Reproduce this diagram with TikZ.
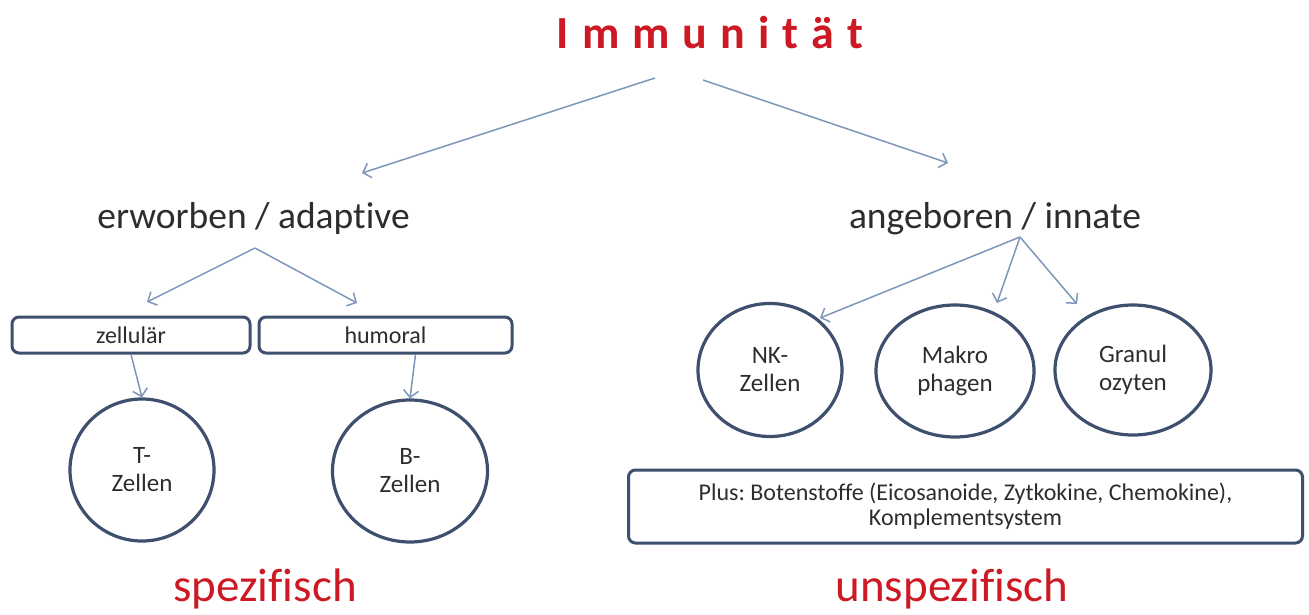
\documentclass[tikz,border=0pt]{standalone}
\usepackage{fontspec}
\setmainfont{Carlito}[Ligatures=NoCommon]
\usetikzlibrary{arrows.meta,shapes.geometric,calc}
\definecolor{redt}{RGB}{205,25,35}
\definecolor{arrc}{RGB}{125,150,185}
\definecolor{bord}{RGB}{62,80,110}
\definecolor{txt}{RGB}{45,45,45}
\newcommand{\ls}{\kern13pt}
\frenchspacing
\begin{document}
\begin{tikzpicture}[x=1pt,y=-1pt,
  lbl/.style={anchor=base,text=txt,inner sep=0pt},
  redlbl/.style={anchor=base,text=redt,inner sep=0pt},
  cell/.style={draw=bord,line width=3.2pt,ellipse,inner sep=0pt,align=center,text=txt,
    font=\fontsize{25}{28}\selectfont},
  boxx/.style={draw=bord,line width=3pt,rounded corners=7pt,inner sep=0pt,align=center,text=txt},
  arr/.style={draw=arrc,line width=1.5pt,-{Straight Barb[length=7pt,width=15pt,line width=1.5pt]}}]
\useasboundingbox (0,0) rectangle (1309,614);
% title
\node[redlbl,font=\fontsize{46}{50}\selectfont\bfseries] (title) at (710,48)
  {I\ls m\ls m\ls u\ls n\ls i\ls t\ls ä\ls t};
% level 1
\node[lbl,font=\fontsize{37.5}{40}\selectfont] (erw) at (253.5,228) {erworben / adaptive};
\node[lbl,font=\fontsize{37.5}{40}\selectfont] (ang) at (995,228) {angeboren / innate};
% arrow endpoints
\coordinate (t1) at (655,78);
\coordinate (t2) at (703,80);
\coordinate (e1) at (362,173);
\coordinate (a1) at (948,163);
\draw[arr] (t1) -- (e1);
\draw[arr] (t2) -- (a1);
% adaptive branch
\node[boxx,minimum width=238,minimum height=36,font=\fontsize{24}{26}\selectfont] (zel) at (131,335) {zellulär};
\node[boxx,minimum width=253,minimum height=36,font=\fontsize{24}{26}\selectfont] (hum) at (385.5,335) {humoral};
\coordinate (ea) at (255,248);
\coordinate (ez) at (147,302);
\coordinate (eh) at (357,303);
\draw[arr] (ea) -- (ez);
\draw[arr] (ea) -- (eh);
\node[cell,minimum width=144,minimum height=142] (tc) at (142,470) {T-\\Zellen};
\node[cell,minimum width=155,minimum height=142] (bc) at (410,471) {B-\\Zellen};
\draw[arr] (zel.south) -- (tc.north);
\draw[arr] ([xshift=30pt]hum.south) -- (bc.north);
% innate branch
\node[cell,minimum width=144,minimum height=133] (nk) at (770,370) {NK-\\Zellen};
\node[cell,minimum width=158,minimum height=132] (mk) at (955,371) {Makro\\phagen};
\node[cell,minimum width=156,minimum height=130] (gr) at (1133,370) {Granul\\ozyten};
\coordinate (ia) at (1020,237);
\coordinate (in) at (820,318);
\coordinate (im) at (997,303);
\coordinate (ig) at (1077,304);
\draw[arr] (ia) -- (in);
\draw[arr] (ia) -- (im);
\draw[arr] (ia) -- (ig);
\node[boxx,minimum width=674,minimum height=73,font=\fontsize{24}{25}\selectfont] (plus) at (965.5,506.5)
  {Plus: Botenstoffe (Eicosanoide, Zytkokine, Chemokine),\\Komplementsystem};
% bottom labels
\node[redlbl,font=\fontsize{47}{52}\selectfont] (spez) at (265,601) {spezifisch};
\node[redlbl,font=\fontsize{47}{52}\selectfont] (unspez) at (952,601) {unspezifisch};
\end{tikzpicture}
\end{document}
